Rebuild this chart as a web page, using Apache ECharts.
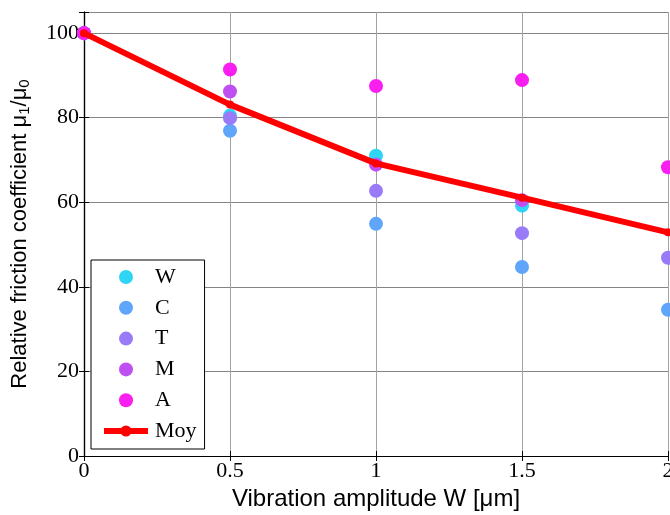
<!DOCTYPE html>
<html>
<head>
<meta charset="utf-8">
<script src="https://cdn.jsdelivr.net/npm/echarts@6/dist/echarts.min.js"></script>
<style>html,body{margin:0;padding:0;background:#fff;}#c{width:670px;height:515px;}</style>
</head>
<body>
<div id="c"></div>
<script>
const xVals = [0, 0.5, 1, 1.5, 2];
const W = [100, 80.5, 71.0, 59.2, null];
const C = [100, 76.9, 54.9, 44.7, 34.6];
const T = [100, 79.9, 62.7, 52.7, 46.9];
const M = [100, 86.2, 68.9, 60.5, null];
const A = [100, 91.4, 87.5, 88.9, 68.3];
const Moy = [100, 83.1, 69.2, 61.1, 52.9];
const xTicks = [0, 0.5, 1, 1.5, 2];
const yTicks = [0, 20, 40, 60, 80, 100];

const names = ['W', 'C', 'T', 'M', 'A'];
const sets = [W, C, T, M, A];
const colors = ['#30d5f6', '#5fa6fa', '#9a7bf7', '#c04ff2', '#f81ff0'];

function pairs(arr) { return xVals.map((x, i) => [x, arr[i]]).filter(p => p[1] != null); }

const scatterSeries = names.map((n, i) => ({
  name: n, type: 'scatter', data: pairs(sets[i]),
  symbol: 'circle', symbolSize: 14,
  itemStyle: { color: colors[i], opacity: 1 },
  z: 2 + i
}));

const chart = echarts.init(document.getElementById('c'), null, { renderer: 'canvas' });
const serif = 'Liberation Serif, Times New Roman, serif';
const sans = 'Liberation Sans, Arial, sans-serif';
chart.setOption({
  animation: false,
  backgroundColor: '#fff',
  grid: { left: 84, right: 2, top: 12, bottom: 59, containLabel: false, outerBoundsMode: 'none' },
  xAxis: [{
    type: 'value', min: 0, max: 2, interval: 0.5, position: 'bottom',
    axisLine: { show: true, lineStyle: { color: '#000', width: 1.2 } },
    axisTick: { show: true, inside: true, length: 5, lineStyle: { color: '#000' } },
    axisLabel: { color: '#000', fontFamily: serif, fontSize: 22, margin: 4,
      formatter: v => xTicks.includes(v) ? String(v) : '' },
    splitLine: { show: true, lineStyle: { color: '#a3a3a3', width: 1 } },
    name: 'Vibration amplitude W [μm]', nameLocation: 'middle', nameGap: 30,
    nameTextStyle: { color: '#000', fontFamily: sans, fontSize: 24 }
  }, {
    type: 'value', min: 0, max: 2, interval: 0.5, position: 'top',
    axisLine: { show: true, lineStyle: { color: '#000', width: 1.2 } },
    axisTick: { show: true, inside: true, length: 5, lineStyle: { color: '#000' } },
    axisLabel: { show: false }, splitLine: { show: false }
  }],
  yAxis: [{
    type: 'value', min: 0, max: 105, interval: 20, position: 'left',
    axisLine: { show: true, lineStyle: { color: '#000', width: 1.2 } },
    axisTick: { show: true, inside: true, length: 5, lineStyle: { color: '#000' } },
    axisLabel: { color: '#000', fontFamily: serif, fontSize: 22, margin: 5,
      formatter: v => yTicks.includes(v) ? String(v) : '' },
    splitLine: { show: true, lineStyle: { color: '#858585', width: 1 } },
    name: '{a|Relative friction coefficient μ}{s|1}{a|/μ}{s|0}',
    nameLocation: 'middle', nameGap: 52, nameRotate: 90,
    nameTextStyle: { color: '#000', fontFamily: sans, fontSize: 22,
      rich: {
        a: { fontFamily: sans, fontSize: 22, color: '#000' },
        s: { fontFamily: sans, fontSize: 15, color: '#000', verticalAlign: 'bottom', padding: [9, 0, 0, 0] }
      } }
  }, {
    type: 'value', min: 0, max: 105, interval: 20, position: 'right',
    axisLine: { show: true, lineStyle: { color: '#000', width: 1.2 } },
    axisTick: { show: true, inside: true, length: 5, lineStyle: { color: '#000' } },
    axisLabel: { show: false }, splitLine: { show: false }
  }],
  legend: {
    orient: 'vertical', left: 91, top: 260,
    data: ['W', 'C', 'T', 'M', 'A', 'Moy'],
    backgroundColor: '#fff', borderColor: '#000', borderWidth: 1, borderRadius: 0,
    padding: [6, 8, 7, 10], itemGap: 8.8, itemWidth: 44, itemHeight: 14,
    textStyle: { color: '#000', fontFamily: serif, fontSize: 22, lineHeight: 22, padding: [0, 0, 0, 2] },
    itemStyle: { opacity: 1 },
    lineStyle: { width: 'inherit' }
  },
  series: scatterSeries.concat([{
    name: 'Moy', type: 'line', data: pairs(Moy),
    symbol: 'circle', symbolSize: 8, showSymbol: true,
    lineStyle: { color: '#ff0000', width: 6 },
    itemStyle: { color: '#ff0000' }, z: 10
  }])
});
</script>
</body>
</html>
